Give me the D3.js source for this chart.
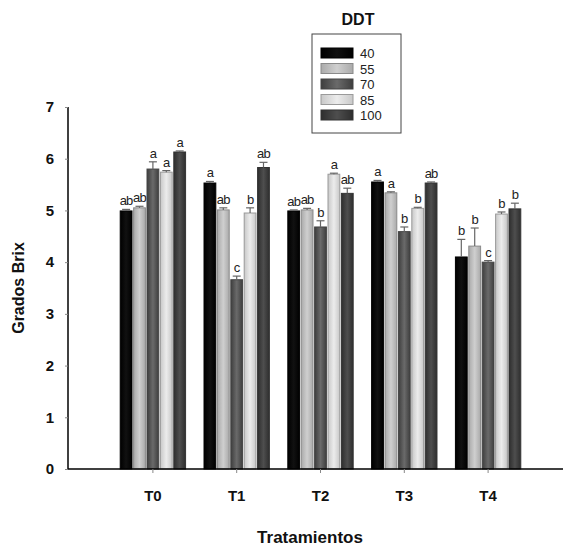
<!DOCTYPE html>
<html>
<head>
<meta charset="utf-8">
<script src="https://d3js.org/d3.v7.min.js"></script>
<style>
body { margin: 0; background: #fff; }
svg text { font-family: "Liberation Sans", Arial, sans-serif; }
</style>
</head>
<body>
<script>
// data
var groups = ["T0", "T1", "T2", "T3", "T4"];
var doses = ["40", "55", "70", "85", "100"];
var d40  = [4.99, 5.53, 4.99, 5.55, 4.10];
var d55  = [5.05, 5.01, 5.01, 5.34, 4.31];
var d70  = [5.80, 3.66, 4.68, 4.59, 4.00];
var d85  = [5.74, 4.95, 5.70, 5.04, 4.93];
var d100 = [6.13, 5.83, 5.33, 5.53, 5.03];
var e40  = [0.03, 0.03, 0.02, 0.03, 0.34];
var e55  = [0.03, 0.04, 0.03, 0.02, 0.35];
var e70  = [0.14, 0.07, 0.12, 0.09, 0.03];
var e85  = [0.03, 0.10, 0.02, 0.02, 0.04];
var e100 = [0.02, 0.10, 0.10, 0.02, 0.11];
var l40  = ["ab", "a", "ab", "a", "b"];
var l55  = ["ab", "ab", "ab", "a", "b"];
var l70  = ["a", "c", "b", "b", "c"];
var l85  = ["a", "b", "a", "b", "b"];
var l100 = ["a", "ab", "ab", "ab", "b"];
var yTicks = [0, 1, 2, 3, 4, 5, 6, 7];

var means = [d40, d55, d70, d85, d100];
var errs = [e40, e55, e70, e85, e100];
var lets = [l40, l55, l70, l85, l100];
// fill colours for each dose (edge, centre) -> mimics the shaded bars
var shades = [["#000", "#111"], ["#aaa", "#cfcfcf"], ["#3e3e3e", "#6a6a6a"], ["#c8c8c8", "#ececec"], ["#2e2e2e", "#4e4e4e"]];
var outline = ["#000", "#8a8a8a", "#444", "#9a9a9a", "#333"];

var rows = [];
groups.forEach(function(g, gi) {
  doses.forEach(function(d, di) {
    rows.push({g: g, d: d, di: di, v: means[di][gi], e: errs[di][gi], l: lets[di][gi]});
  });
});

var svg = d3.select("body").append("svg")
  .attr("width", 563).attr("height", 546);

var defs = svg.append("defs");
shades.forEach(function(s, i) {
  var gr = defs.append("linearGradient").attr("id", "g" + i)
    .attr("x1", "0%").attr("x2", "100%").attr("y1", "0%").attr("y2", "0%");
  gr.append("stop").attr("offset", "0%").attr("stop-color", s[0]);
  gr.append("stop").attr("offset", "50%").attr("stop-color", s[1]);
  gr.append("stop").attr("offset", "100%").attr("stop-color", s[0]);
});

var y = d3.scaleLinear().domain([0, 7]).range([469, 107]);
var x0 = d3.scaleBand().domain(groups).range([111, 530]).paddingInner(0.22).paddingOuter(0.11);
var x1 = d3.scaleBand().domain(doses).range([0, x0.bandwidth()]).paddingInner(0.12);

// bars
svg.selectAll("rect.bar").data(rows).enter().append("rect")
  .attr("class", "bar")
  .attr("x", function(r) { return x0(r.g) + x1(r.d); })
  .attr("y", function(r) { return y(r.v); })
  .attr("width", x1.bandwidth())
  .attr("height", function(r) { return y(0) - y(r.v); })
  .attr("fill", function(r) { return "url(#g" + r.di + ")"; })
  .attr("stroke", function(r) { return outline[r.di]; })
  .attr("stroke-width", 1);

// error bars (upper half only)
var eb = svg.selectAll("g.err").data(rows).enter().append("g").attr("class", "err")
  .attr("stroke", "#666").attr("stroke-width", 1.2);
eb.append("line")
  .attr("x1", function(r) { return x0(r.g) + x1(r.d) + x1.bandwidth() / 2; })
  .attr("x2", function(r) { return x0(r.g) + x1(r.d) + x1.bandwidth() / 2; })
  .attr("y1", function(r) { return y(r.v); })
  .attr("y2", function(r) { return y(r.v + r.e); });
eb.append("line")
  .attr("x1", function(r) { return x0(r.g) + x1(r.d) + x1.bandwidth() / 2 - 4; })
  .attr("x2", function(r) { return x0(r.g) + x1(r.d) + x1.bandwidth() / 2 + 4; })
  .attr("y1", function(r) { return y(r.v + r.e); })
  .attr("y2", function(r) { return y(r.v + r.e); });

// significance letters
svg.selectAll("text.let").data(rows).enter().append("text")
  .attr("class", "let")
  .attr("x", function(r) { return x0(r.g) + x1(r.d) + x1.bandwidth() / 2; })
  .attr("y", function(r) { return y(r.v + r.e) - 4; })
  .attr("text-anchor", "middle")
  .attr("font-size", 13)
  .attr("letter-spacing", -0.8)
  .attr("fill", "#222")
  .text(function(r) { return r.l; });

// axes
var yAxis = svg.append("g").attr("transform", "translate(68,0)")
  .call(d3.axisLeft(y).tickValues(yTicks).tickSize(3).tickPadding(11).tickFormat(d3.format("d")));
yAxis.select(".domain").attr("stroke", "#000").attr("stroke-width", 1.5).attr("d", "M0," + y(7) + "V" + y(0));
yAxis.selectAll(".tick line").attr("stroke", "#888");
yAxis.selectAll(".tick text").attr("font-size", 15).attr("font-weight", "bold").attr("fill", "#111");

var xAxis = svg.append("g").attr("transform", "translate(0," + y(0) + ")")
  .call(d3.axisBottom(x0).tickSize(4).tickPadding(17));
xAxis.select(".domain").attr("stroke", "#000").attr("stroke-width", 1.5).attr("d", "M68,0H563");
xAxis.selectAll(".tick line").attr("stroke", "#888");
xAxis.selectAll(".tick text").attr("font-size", 15).attr("font-weight", "bold").attr("fill", "#111");

svg.append("text")
  .attr("transform", "translate(24," + (y(3.5)) + ") rotate(-90)")
  .attr("text-anchor", "middle")
  .attr("font-size", 16).attr("font-weight", "bold").attr("fill", "#111")
  .text("Grados Brix");

svg.append("text")
  .attr("x", 310).attr("y", 543)
  .attr("text-anchor", "middle")
  .attr("font-size", 17).attr("font-weight", "bold").attr("fill", "#111")
  .text("Tratamientos");

// legend
svg.append("text").attr("x", 358).attr("y", 25)
  .attr("text-anchor", "middle")
  .attr("font-size", 16).attr("font-weight", "bold").attr("fill", "#111")
  .text("DDT");
svg.append("rect").attr("x", 312).attr("y", 34).attr("width", 89).attr("height", 99)
  .attr("fill", "#fff").attr("stroke", "#444").attr("stroke-width", 1);
var leg = svg.selectAll("g.leg").data(doses).enter().append("g").attr("class", "leg")
  .attr("transform", function(d, i) { return "translate(321," + (53 + i * 15.5) + ")"; });
leg.append("rect").attr("x", 0).attr("y", -5).attr("width", 32).attr("height", 10)
  .attr("fill", function(d, i) { return "url(#g" + i + ")"; })
  .attr("stroke", function(d, i) { return outline[i]; });
leg.append("text").attr("x", 39).attr("y", 5)
  .attr("font-size", 13).attr("fill", "#222")
  .text(function(d) { return d; });
</script>
</body>
</html>
